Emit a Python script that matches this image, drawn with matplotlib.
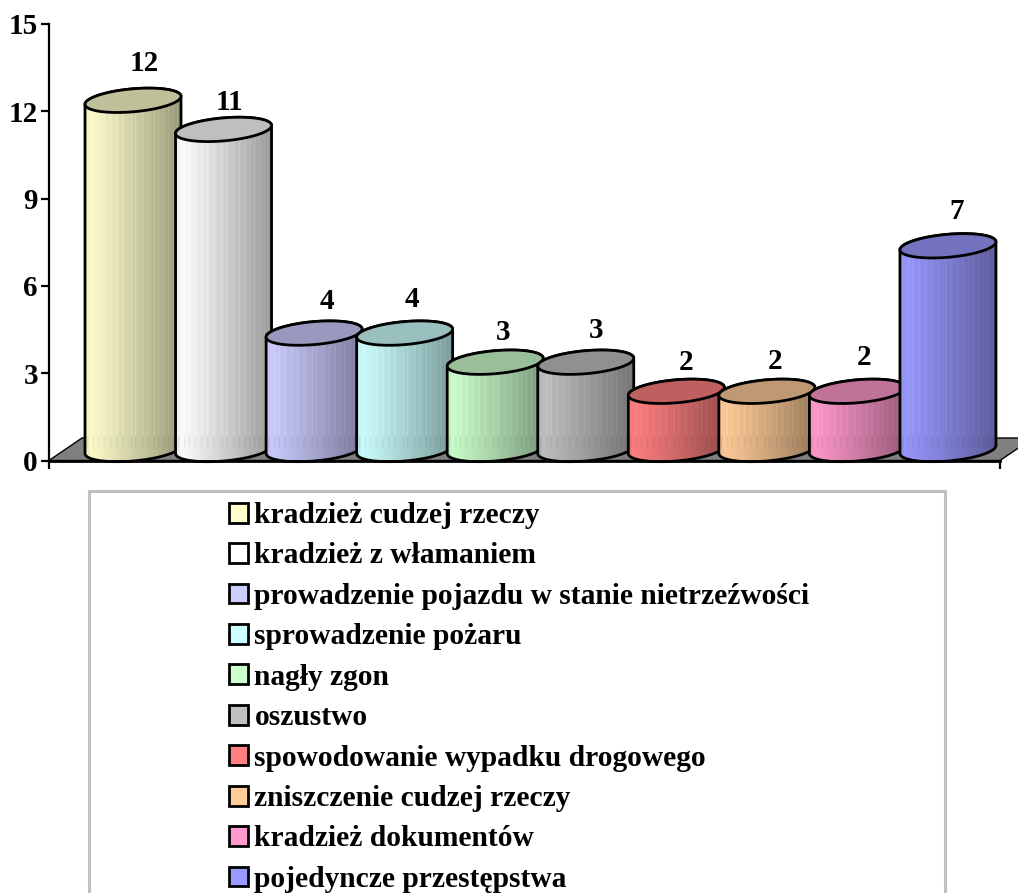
import numpy as np
import matplotlib
matplotlib.use('Agg')
from matplotlib import pyplot as plt
from matplotlib.patches import Patch, Polygon, Rectangle

# dane z wykresu
kategorie = ['kradzież cudzej rzeczy', 'kradzież z włamaniem',
             'prowadzenie pojazdu w stanie nietrzeźwości', 'sprowadzenie pożaru',
             'nagły zgon', 'oszustwo', 'spowodowanie wypadku drogowego',
             'zniszczenie cudzej rzeczy', 'kradzież dokumentów', 'pojedyncze przestępstwa']
wartosci = [12, 11, 4, 4, 3, 3, 2, 2, 2, 7]
kolory = ['#FFFFCC', '#FFFFFF', '#CCCCFF', '#CCFFFF', '#CCFFCC',
          '#C0C0C0', '#FF8080', '#FFCC99', '#FF99CC', '#9999FF']
y_ticks = [0, 3, 6, 9, 12, 15]

# przesuniecia etykiet (w pikselach) i prazki na walcach
label_dx = [11, 6, 13, 7, 8, 10, 10, 8, 7, 9]
label_dy = [37, 27, 32, 34, 30, 32, 29, 30, 34, 34]
prazki = [0.03, 0.09, 0.14, 0.20, 0.27, 0.33, 0.40, 0.48, 0.53, 0.60,
          0.66, 0.72, 0.77, 0.82, 0.87, 0.92, 0.96]

plt.rcParams['font.family'] = ['Liberation Serif', 'DejaVu Serif']
plt.rcParams['font.weight'] = 'bold'

W, H = 1018, 893
fig = plt.figure(figsize=(W / 100, H / 100), dpi=100)
ax = fig.add_axes([49 / W, (H - 460.5) / H, 951 / W, 436.5 / H])

PX_X = 90.55
PX_Y = 29.1
ax.set_xlim((49 - 133) / PX_X, (1000 - 133) / PX_X)
ax.set_ylim(0, 15)
ax.set_autoscale_on(False)

rx = 48 / PX_X
ry = 11.5 / PX_Y
skos = 4 / PX_Y
podstawa = 11 / PX_Y

# podloga
x0, x1 = ax.get_xlim()
gx, gy = 33 / PX_X, 22.5 / PX_Y
ax.add_patch(Polygon([(x0, 0), (x1, 0), (x1 + gx, gy), (x0 + gx, gy)], closed=True,
                     facecolor='#808080', edgecolor='black', linewidth=1.0,
                     zorder=1, clip_on=False))


def elipsa(cx, cy, t):
    return cx + rx * np.cos(t), cy + skos * np.cos(t) + ry * np.sin(t)


def walec(i, v, kolor):
    rgb = np.array(matplotlib.colors.to_rgb(kolor))
    cy = v + podstawa
    z = 10 + i * 3

    # tekstura: cieniowanie od lewej do prawej z jasnymi prazkami
    n = 192
    wiersze = max(int((cy + ry + skos) * PX_Y * 2), 8)
    frac = (np.arange(n) + 0.5) / n
    cien = 1.0 - 0.40 * frac ** 1.1
    cien[frac < 0.04] *= 0.94
    img = np.ones((wiersze, n, 3)) * rgb[None, None, :] * cien[None, :, None]
    yy = np.linspace(cy + ry + skos, -ry - skos + podstawa, wiersze)
    for p in prazki:
        k = int(p * n)
        gora = yy > 0.8
        dol = (yy <= 0.8) & (yy > 0.45)
        img[gora, k:k + 1, :] = np.minimum(img[gora, k:k + 1, :] * 1.10 + 0.03, 1)
        img[dol, k:k + 1, :] = img[dol, k:k + 1, :] * 0.85

    t_dol = np.linspace(np.pi, 2 * np.pi, 80)
    t_gora = np.linspace(0, np.pi, 80)
    bx, by = elipsa(i, podstawa, t_dol)
    gx_, gy_ = elipsa(i, cy, t_gora)
    body = Polygon(np.column_stack([np.r_[bx, gx_], np.r_[by, gy_]]), closed=True,
                   facecolor='none', edgecolor='black', linewidth=2.0, zorder=z + 1,
                   clip_on=False, joinstyle='round')
    ax.add_patch(body)
    im = ax.imshow(img, extent=(i - rx, i + rx, yy[-1], yy[0]), aspect='auto',
                   zorder=z, interpolation='bilinear')
    im.set_clip_path(body)

    t = np.linspace(0, 2 * np.pi, 160)
    ex, ey = elipsa(i, cy, t)
    ax.add_patch(Polygon(np.column_stack([ex, ey]), closed=True, facecolor=rgb * 0.75,
                         edgecolor='black', linewidth=2.0, zorder=z + 2, clip_on=False))


for i, (v, k) in enumerate(zip(wartosci, kolory)):
    walec(i, v, k)
    ax.annotate(str(v), (i, v + podstawa), xytext=(label_dx[i] * 0.72, label_dy[i] * 0.72),
                textcoords='offset points', ha='center', va='center',
                fontsize=21, fontweight='bold', zorder=100, annotation_clip=False)

# osie
for s in ['top', 'right']:
    ax.spines[s].set_visible(False)
ax.spines['left'].set_linewidth(1.6)
ax.spines['bottom'].set_linewidth(2.0)
ax.set_yticks(y_ticks)
ax.set_xticks([x0, x1])
ax.set_xticklabels([])
ax.tick_params(axis='y', length=6, width=1.6, pad=2, labelsize=21)
ax.tick_params(axis='x', length=6, width=1.6)
ax.patch.set_alpha(0)

# legenda
fig.add_artist(Rectangle((89 / W, -20 / H), 856 / W, (H - 491 + 20) / H,
                         transform=fig.transFigure, facecolor='white',
                         edgecolor='#C0C0C0', linewidth=2.2))
uchwyty = [Patch(facecolor=k, edgecolor='black', linewidth=2.0) for k in kolory]
leg = fig.legend(uchwyty, kategorie, loc='upper left',
                 bbox_to_anchor=(229 / W, (H - 502) / H), frameon=False,
                 prop={'family': 'Liberation Serif', 'weight': 'bold', 'size': 21.25},
                 borderpad=0, borderaxespad=0, handlelength=0.66, handleheight=0.66,
                 handletextpad=0.2, labelspacing=0.455)

fig.savefig('out.png', dpi=100)
